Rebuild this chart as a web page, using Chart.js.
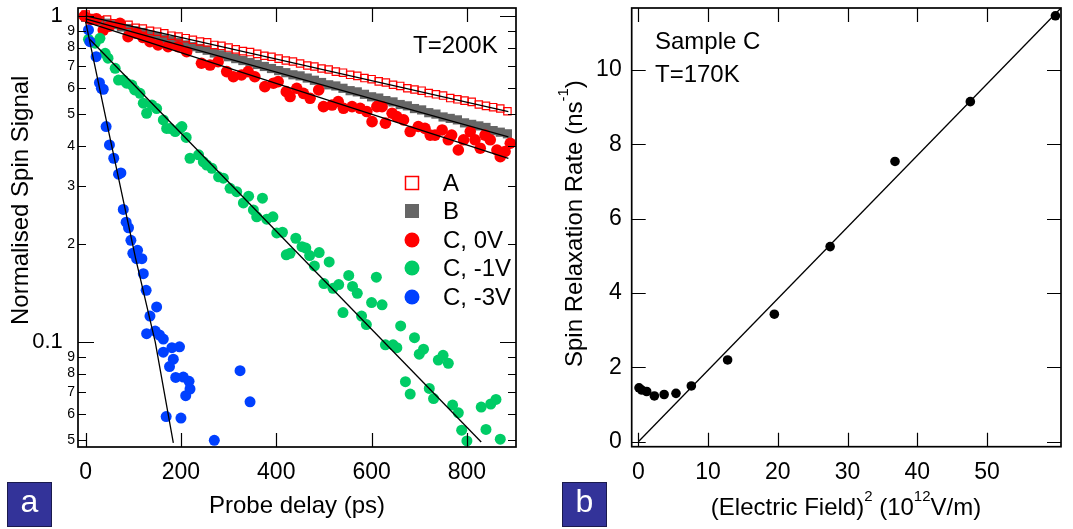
<!DOCTYPE html>
<html>
<head>
<meta charset="utf-8">
<script src="https://cdn.jsdelivr.net/npm/chart.js@4.4.1/dist/chart.umd.min.js"></script>
<style>
    html, body { margin: 0; padding: 0; background: #fff; }
    #wrap { position: relative; width: 1073px; height: 529px; overflow: hidden; }
    #boxLeft { position: absolute; left: 0; top: 0; width: 540px; height: 529px; }
    #boxRight { position: absolute; left: 540px; top: 0; width: 533px; height: 529px; }
</style>
</head>
<body>
<div id="wrap">
    <div id="boxLeft"><canvas id="chartDecay" width="540" height="529"></canvas></div>
    <div id="boxRight"><canvas id="chartRate" width="533" height="529"></canvas></div>
</div>
<script>
// Panel a: spin signal decay (log y), panel b: relaxation rate vs field^2.

const FONT = '"Liberation Sans", Arial, Helvetica, sans-serif';

// ---- panel a data ----
const delayAB = [0, 15, 30, 45, 60, 75, 90, 105, 120, 135, 150, 165, 180, 195, 210, 225, 240, 255, 270, 285,
    300, 315, 330, 345, 360, 375, 390, 405, 420, 435, 450, 465, 480, 495, 510, 525, 540, 555, 570, 585,
    600, 615, 630, 645, 660, 675, 690, 705, 720, 735, 750, 765, 780, 795, 810, 825, 840, 855, 870, 885];
const signalA = [1.01, 0.985, 0.97, 0.975, 0.95, 0.935, 0.94, 0.92, 0.915, 0.90,
    0.895, 0.885, 0.87, 0.865, 0.855, 0.845, 0.835, 0.83, 0.815, 0.81,
    0.80, 0.79, 0.78, 0.775, 0.765, 0.755, 0.75, 0.74, 0.73, 0.725,
    0.715, 0.705, 0.70, 0.69, 0.685, 0.675, 0.67, 0.66, 0.655, 0.645,
    0.64, 0.63, 0.625, 0.615, 0.61, 0.60, 0.595, 0.59, 0.58, 0.575,
    0.57, 0.56, 0.555, 0.55, 0.545, 0.535, 0.53, 0.525, 0.52, 0.51];
const signalB = [0.99, 0.975, 0.965, 0.95, 0.94, 0.925, 0.915, 0.90, 0.89, 0.875,
    0.865, 0.85, 0.84, 0.83, 0.815, 0.805, 0.795, 0.785, 0.77, 0.76,
    0.75, 0.74, 0.73, 0.72, 0.71, 0.70, 0.69, 0.68, 0.67, 0.66,
    0.655, 0.645, 0.635, 0.625, 0.615, 0.61, 0.60, 0.59, 0.585, 0.575,
    0.565, 0.56, 0.55, 0.545, 0.535, 0.53, 0.52, 0.515, 0.505, 0.50,
    0.49, 0.485, 0.48, 0.47, 0.465, 0.46, 0.455, 0.445, 0.44, 0.435];

const delayC0 = [-3, 10, 23, 37, 50, 72, 89, 107, 120, 135, 152, 173, 194, 212, 243, 261, 278, 296, 310, 327,
    341, 355, 376, 394, 404, 421, 429, 443, 457, 471, 489, 499, 517, 530, 541, 559, 576, 590, 601, 611,
    622, 629, 643, 653, 667, 681, 698, 712, 723, 733, 748, 761, 768, 782, 793, 807, 817, 828, 838, 849,
    863, 870, 880, 891];
const signalC0 = [1.0, 0.975, 0.98, 0.905, 0.93, 0.95, 0.864, 0.885, 0.86, 0.834, 0.815, 0.805, 0.805, 0.777, 0.716, 0.707, 0.724, 0.675, 0.651, 0.659,
    0.675, 0.651, 0.607, 0.622, 0.629, 0.586, 0.566, 0.600, 0.579, 0.559, 0.593, 0.527, 0.533, 0.546, 0.521, 0.527, 0.521, 0.509, 0.474, 0.527,
    0.527, 0.469, 0.503, 0.491, 0.480, 0.442, 0.458, 0.452, 0.431, 0.431, 0.447, 0.417, 0.431, 0.388, 0.417, 0.442, 0.417, 0.393, 0.431, 0.417,
    0.388, 0.370, 0.384, 0.407];

const delayC1 = [6, 20, 30, 41, 47, 62, 69, 79, 86, 97, 103, 114, 121, 128, 139, 149, 163, 170, 177, 188,
    198, 202, 211, 219, 237, 247, 254, 265, 279, 289, 303, 317, 331, 342, 352, 359, 371, 380, 393, 401,
    413, 421, 429, 441, 454, 462, 470, 480, 490, 500, 511, 519, 531, 540, 552, 560, 570, 579, 589, 600,
    610, 622, 629, 645, 653, 661, 671, 681, 690, 700, 709, 721, 730, 740, 750, 761, 770, 782, 789, 800,
    830, 840, 850, 861, 870];
const signalC1 = [0.848, 0.825, 0.854, 0.768, 0.742, 0.691, 0.636, 0.636, 0.622, 0.614, 0.593, 0.579, 0.54, 0.503, 0.533, 0.52, 0.48, 0.452, 0.452, 0.442,
    0.452, 0.458, 0.424, 0.366, 0.375, 0.357, 0.349, 0.341, 0.321, 0.318, 0.296, 0.289, 0.267, 0.28, 0.254, 0.242, 0.276, 0.238, 0.242, 0.216,
    0.217, 0.185, 0.187, 0.208, 0.196, 0.194, 0.184, 0.171, 0.188, 0.151, 0.176, 0.146, 0.150, 0.123, 0.16, 0.148, 0.141, 0.12, 0.113, 0.132,
    0.158, 0.130, 0.098, 0.098, 0.096, 0.112, 0.0755, 0.0692, 0.103, 0.0917, 0.095, 0.072, 0.067, 0.088, 0.091, 0.086, 0.064, 0.0606, 0.0536, 0.0497,
    0.0631, 0.0539, 0.0645, 0.0666, 0.0503];

const delayC3 = [6, 9, 22, 29, 33, 37, 43, 50, 59, 69, 74, 79, 85, 90, 95, 99, 107, 109, 118, 121,
    127, 128, 135, 146, 149, 155, 163, 163, 169, 176, 181, 184, 189, 197, 200, 205, 210, 217, 219, 270,
    324, 345];
const signalC3 = [0.906, 0.834, 0.75, 0.624, 0.60, 0.596, 0.458, 0.402, 0.366, 0.327, 0.33, 0.255, 0.233, 0.224, 0.205, 0.187, 0.18, 0.191, 0.18, 0.162,
    0.144, 0.106, 0.12, 0.108, 0.128, 0.105, 0.102, 0.093, 0.059, 0.084, 0.096, 0.0885, 0.0778, 0.0966, 0.0584, 0.078, 0.0684, 0.0757, 0.0717, 0.0499,
    0.0816, 0.0655];

// fitted decays (straight on the log axis)
const fitDelayA = [0, 887];
const fitA = [1.0, 0.509];
const fitDelayB = [0, 887];
const fitB = [0.98, 0.426];
const fitDelayC0 = [0, 887];
const fitC0 = [0.96, 0.366];
const fitDelayC1 = [8, 830];
const fitC1 = [0.85, 0.0493];
const fitDelayC3 = [0, 50, 105, 146, 184];
const fitC3 = [0.96, 0.43, 0.18, 0.1, 0.049];

const delayTicks = [0, 200, 400, 600, 800];
const signalTicks = [1, 0.9, 0.8, 0.7, 0.6, 0.5, 0.4, 0.3, 0.2, 0.1, 0.09, 0.08, 0.07, 0.06, 0.05];
const signalTickText = ['1', '9', '8', '7', '6', '5', '4', '3', '2', '0.1', '9', '8', '7', '6', '5'];
const signalMajor = [1, 0.1];

// ---- panel b data ----
const fieldSq = [0.1, 0.5, 1.2, 2.3, 3.7, 5.4, 7.6, 12.8, 19.5, 27.5, 36.8, 47.6, 59.8];
const relaxRate = [1.45, 1.39, 1.35, 1.23, 1.27, 1.30, 1.50, 2.2, 3.43, 5.25, 7.54, 9.15, 11.46];
const fitFieldSq = [0, 60.6];
const fitRate = [0, 11.67];
const fieldTicks = [0, 10, 20, 30, 40, 50];
const rateTicks = [0, 2, 4, 6, 8, 10];

const RED = 'rgb(255,0,0)';
const GREY = 'rgb(102,102,102)';
const GREEN = 'rgb(0,204,102)';
const BLUE = 'rgb(0,64,255)';

function pts(xs, ys) {
    return xs.map((x, i) => ({ x, y: ys[i] }));
}

function fitLine(xs, ys) {
    return {
        data: pts(xs, ys),
        showLine: true,
        borderColor: '#000',
        borderWidth: 1.3,
        pointRadius: 0,
        fill: false
    };
}

function dots(label, xs, ys, color, style, radius, filled) {
    return {
        label,
        data: pts(xs, ys),
        showLine: false,
        pointStyle: style,
        pointRadius: radius,
        pointBorderWidth: filled ? 0 : 1.2,
        pointBorderColor: color,
        pointBackgroundColor: filled ? color : 'rgba(0,0,0,0)',
        legendColor: color,
        legendFilled: filled
    };
}

function setTicks(vals) {
    return scale => { scale.ticks = vals.map(v => ({ value: v })); };
}

// text with superscripts: parts = [{t, sup}]
function richWidth(ctx, parts, size) {
    let w = 0;
    parts.forEach(p => {
        ctx.font = `${p.sup ? Math.round(size * 0.62) : size}px ${FONT}`;
        w += ctx.measureText(p.t).width;
    });
    return w;
}

function drawRich(ctx, parts, x, y, size) {
    let cx = x;
    ctx.textAlign = 'left';
    ctx.textBaseline = 'alphabetic';
    parts.forEach(p => {
        ctx.font = `${p.sup ? Math.round(size * 0.62) : size}px ${FONT}`;
        ctx.fillText(p.t, cx, p.sup ? y - size * 0.58 : y);
        cx += ctx.measureText(p.t).width;
    });
}

function panelTag(ctx, letter, x, y) {
    ctx.fillStyle = '#333399';
    ctx.fillRect(x, y, 45, 45);
    ctx.strokeStyle = '#1a1a4d';
    ctx.lineWidth = 1;
    ctx.strokeRect(x + 0.5, y + 0.5, 44, 44);
    ctx.fillStyle = '#fff';
    ctx.font = `32px ${FONT}`;
    ctx.textAlign = 'center';
    ctx.textBaseline = 'middle';
    ctx.fillText(letter, x + 22.5, y + 21);
}

// frame + inward ticks on all four sides
function framePlugin(cfg) {
    return {
        id: 'frame_' + cfg.name,
        afterDraw(chart) {
            const { ctx, chartArea: a } = chart;
            const xs = chart.scales.x, ys = chart.scales.y;
            ctx.save();
            ctx.strokeStyle = '#000';
            ctx.lineWidth = 1.2;
            ctx.beginPath();
            xs.ticks.forEach(t => {
                const px = Math.round(xs.getPixelForValue(t.value)) + 0.5;
                ctx.moveTo(px, a.bottom); ctx.lineTo(px, a.bottom - cfg.xLen);
                ctx.moveTo(px, a.top); ctx.lineTo(px, a.top + cfg.xLen);
            });
            ys.ticks.forEach(t => {
                const py = Math.round(ys.getPixelForValue(t.value)) + 0.5;
                const len = cfg.yMajor.includes(t.value) ? cfg.yLenMajor : cfg.yLen;
                ctx.moveTo(a.left, py); ctx.lineTo(a.left + len, py);
                ctx.moveTo(a.right, py); ctx.lineTo(a.right - len, py);
            });
            ctx.stroke();
            ctx.lineWidth = 1.7;
            ctx.strokeRect(a.left, a.top, a.right - a.left, a.bottom - a.top);
            ctx.fillStyle = '#000';
            cfg.extra(ctx, chart);
            ctx.restore();
        }
    };
}

function decorDecay(ctx, chart) {
    ctx.font = `24px ${FONT}`;
    ctx.textAlign = 'left';
    ctx.textBaseline = 'alphabetic';
    ctx.fillText('T=200K', 413, 53);

    // x title
    const xt = [{ t: 'Probe delay (ps)' }];
    drawRich(ctx, xt, 297 - richWidth(ctx, xt, 24) / 2, 513, 24);

    // y title (rotated)
    ctx.save();
    ctx.translate(28, 325);
    ctx.rotate(-Math.PI / 2);
    drawRich(ctx, [{ t: 'Normalised Spin Signal' }], 0, 0, 24);
    ctx.restore();

    // legend from the marker datasets
    const order = ['A', 'B', 'C, 0V', 'C, -1V', 'C, -3V'];
    const rows = [183, 211, 240, 268, 297];
    order.forEach((lab, i) => {
        const ds = chart.data.datasets.find(d => d.label === lab);
        const y = rows[i], x = 412;
        if (ds.pointStyle === 'rect') {
            if (ds.legendFilled) {
                ctx.fillStyle = ds.legendColor;
                ctx.fillRect(x - 7, y - 7, 14, 14);
            } else {
                ctx.strokeStyle = ds.legendColor;
                ctx.lineWidth = 1.5;
                ctx.strokeRect(x - 6.5, y - 6.5, 13, 13);
            }
        } else {
            ctx.fillStyle = ds.legendColor;
            ctx.beginPath();
            ctx.arc(x, y, 7.5, 0, Math.PI * 2);
            ctx.fill();
        }
        ctx.fillStyle = '#000';
        ctx.font = `24px ${FONT}`;
        ctx.textAlign = 'left';
        ctx.textBaseline = 'middle';
        ctx.fillText(lab, 443, y + 1);
    });

    panelTag(ctx, 'a', 7, 482);
}

function decorRate(ctx) {
    ctx.font = `24px ${FONT}`;
    ctx.textAlign = 'left';
    ctx.textBaseline = 'alphabetic';
    ctx.fillText('Sample C', 115, 49);
    ctx.fillText('T=170K', 115, 82);

    const xt = [{ t: '(Electric Field)' }, { t: '2', sup: true }, { t: ' (10' }, { t: '12', sup: true }, { t: 'V/m)' }];
    drawRich(ctx, xt, 306 - richWidth(ctx, xt, 24) / 2, 515, 24);

    ctx.save();
    ctx.translate(42, 367);
    ctx.rotate(-Math.PI / 2);
    drawRich(ctx, [{ t: 'Spin Relaxation Rate (ns' }, { t: '-1', sup: true }, { t: ')' }], 0, 0, 24);
    ctx.restore();

    panelTag(ctx, 'b', 22, 482);
}

const tickFont = { family: FONT, size: 23 };
const noGrid = { display: false, drawTicks: false };

new Chart(document.getElementById('chartDecay'), {
    type: 'scatter',
    data: {
        datasets: [
            fitLine(fitDelayA, fitA),
            fitLine(fitDelayB, fitB),
            fitLine(fitDelayC0, fitC0),
            fitLine(fitDelayC1, fitC1),
            fitLine(fitDelayC3, fitC3),
            dots('C, -3V', delayC3, signalC3, BLUE, 'circle', 5.5, true),
            dots('C, -1V', delayC1, signalC1, GREEN, 'circle', 5.5, true),
            dots('C, 0V', delayC0, signalC0, RED, 'circle', 5.8, true),
            dots('A', delayAB, signalA, RED, 'rect', 5.2, false),
            dots('B', delayAB, signalB, GREY, 'rect', 6.5, true)
        ]
    },
    options: {
        responsive: false,
        animation: false,
        events: [],
        layout: { padding: { left: 0, right: 24, top: 8, bottom: 0 } },
        plugins: { legend: { display: false }, tooltip: { enabled: false } },
        scales: {
            x: {
                type: 'linear',
                min: -16,
                max: 903,
                afterBuildTicks: setTicks(delayTicks),
                afterFit: s => { s.height = 82; s.paddingLeft = 0; s.paddingRight = 0; },
                grid: noGrid,
                border: { display: false },
                ticks: { font: tickFont, color: '#000', padding: 12, maxRotation: 0, autoSkip: false }
            },
            y: {
                type: 'logarithmic',
                min: 0.0476,
                max: 1.058,
                afterBuildTicks: setTicks(signalTicks),
                afterFit: s => { s.width = 78; s.paddingTop = 0; s.paddingBottom = 0; },
                grid: noGrid,
                border: { display: false },
                ticks: {
                    color: '#000',
                    padding: 3,
                    autoSkip: false,
                    font: c => ({ family: FONT, size: signalMajor.includes(c.tick && c.tick.value) ? 22 : 14 }),
                    callback: (v, i) => {
                        const txt = signalTickText[i];
                        return signalMajor.includes(v) ? txt + '  ' : txt;
                    }
                }
            }
        }
    },
    plugins: [framePlugin({ name: 'decay', xLen: 14, yLen: 8, yLenMajor: 16, yMajor: signalMajor, extra: decorDecay })]
});

new Chart(document.getElementById('chartRate'), {
    type: 'scatter',
    data: {
        datasets: [
            fitLine(fitFieldSq, fitRate),
            dots('Sample C', fieldSq, relaxRate, '#000', 'circle', 4.8, true)
        ]
    },
    options: {
        responsive: false,
        animation: false,
        events: [],
        layout: { padding: { left: 0, right: 12, top: 8, bottom: 0 } },
        plugins: { legend: { display: false }, tooltip: { enabled: false } },
        scales: {
            x: {
                type: 'linear',
                min: -0.95,
                max: 60.6,
                afterBuildTicks: setTicks(fieldTicks),
                afterFit: s => { s.height = 82.3; s.paddingLeft = 0; s.paddingRight = 0; },
                grid: noGrid,
                border: { display: false },
                ticks: { font: tickFont, color: '#000', padding: 12, maxRotation: 0, autoSkip: false }
            },
            y: {
                type: 'linear',
                min: -0.135,
                max: 11.67,
                afterBuildTicks: setTicks(rateTicks),
                afterFit: s => { s.width = 91.7; s.paddingTop = 0; s.paddingBottom = 0; },
                grid: noGrid,
                border: { display: false },
                ticks: { font: tickFont, color: '#000', padding: 10, autoSkip: false }
            }
        }
    },
    plugins: [framePlugin({ name: 'rate', xLen: 14, yLen: 14, yLenMajor: 14, yMajor: [], extra: decorRate })]
});
</script>
</body>
</html>
